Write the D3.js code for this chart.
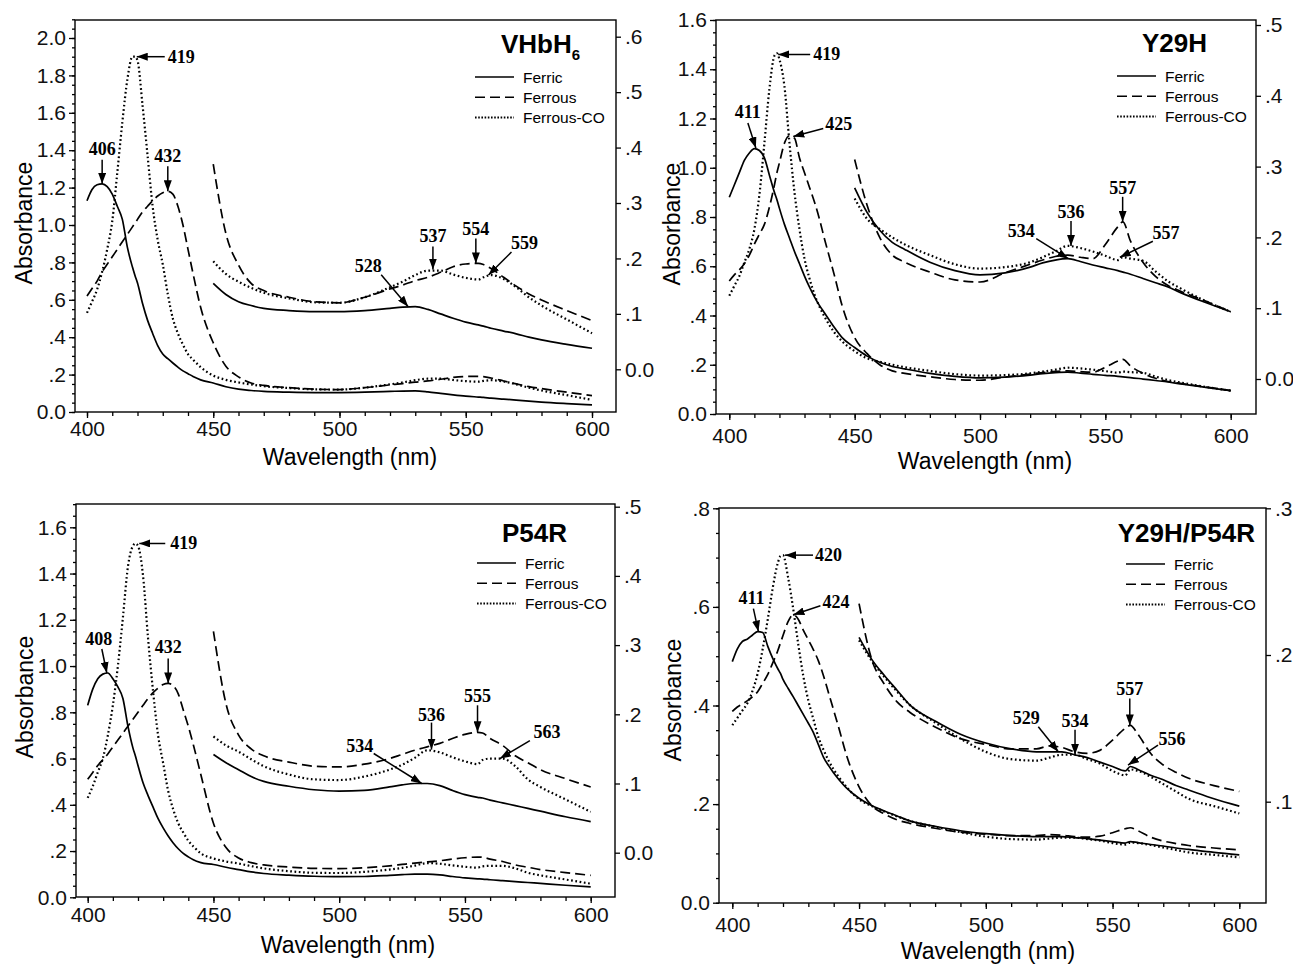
<!DOCTYPE html>
<html>
<head>
<meta charset="utf-8">
<script src="https://cdn.jsdelivr.net/npm/d3@7"></script>
<style>
body{margin:0;background:#fff;}
svg{display:block;font-family:"Liberation Sans",Arial,sans-serif;}
.tick text{font-size:21px;fill:#111;}
.ann{font-family:"Liberation Serif","Times New Roman",serif;font-weight:bold;font-size:18px;}
</style>
</head>
<body>
<script>
// wavelength grid (nm) shared by every spectrum
const wl = [400,402,404,406,408,410,412,414,416,418,419,420,422,424,426,428,430,432,434,436,438,440,442,445,
            450,455,460,465,470,480,490,500,510,520,525,530,535,540,545,550,555,557,560,565,570,575,580,590,600];

// VHbH6
const vhbFerric = [1.13,1.19,1.215,1.22,1.205,1.165,1.1,1.03,0.88,0.775,0.73,0.69,0.58,0.49,0.42,0.355,0.31,0.285,0.262,0.24,0.22,0.205,0.19,
                   0.172,0.155,0.135,0.122,0.115,0.11,0.106,0.104,0.104,0.106,0.11,0.112,0.113,0.108,0.1,0.092,0.085,0.08,0.078,0.074,0.069,0.064,0.058,0.053,0.045,0.038];
const vhbFerrous = [0.62,0.66,0.7,0.75,0.79,0.83,0.87,0.91,0.95,0.99,1.01,1.03,1.07,1.1,1.13,1.155,1.172,1.18,1.165,1.1,1.0,0.87,0.74,
                    0.56,0.37,0.245,0.188,0.155,0.142,0.13,0.122,0.12,0.13,0.145,0.152,0.16,0.166,0.175,0.185,0.19,0.191,0.189,0.182,0.166,0.15,0.136,0.125,0.106,0.088];
const vhbCO = [0.53,0.59,0.655,0.75,0.87,1.02,1.28,1.55,1.78,1.9,1.9,1.88,1.64,1.37,1.1,0.92,0.79,0.63,0.5,0.42,0.36,0.31,0.28,
               0.24,0.195,0.172,0.158,0.147,0.138,0.128,0.121,0.12,0.13,0.148,0.158,0.17,0.178,0.178,0.171,0.165,0.162,0.166,0.17,0.163,0.148,0.13,0.115,0.09,0.065];

// Y29H
const y29Ferric = [0.88,0.93,0.98,1.03,1.06,1.078,1.07,1.04,0.97,0.9,0.87,0.835,0.77,0.715,0.66,0.61,0.56,0.515,0.475,0.44,0.41,0.38,0.35,
                   0.31,0.27,0.235,0.21,0.193,0.183,0.165,0.153,0.147,0.15,0.158,0.164,0.168,0.17,0.166,0.161,0.157,0.153,0.151,0.148,0.142,0.136,0.13,0.122,0.108,0.095];
const y29Ferrous = [0.54,0.565,0.585,0.61,0.645,0.69,0.73,0.77,0.84,0.93,0.98,1.02,1.1,1.13,1.12,1.04,0.98,0.92,0.86,0.79,0.71,0.635,0.56,
                    0.44,0.31,0.245,0.2,0.175,0.165,0.151,0.14,0.137,0.15,0.162,0.168,0.173,0.175,0.172,0.17,0.19,0.215,0.222,0.195,0.165,0.145,0.132,0.124,0.11,0.095];
const y29CO = [0.48,0.52,0.56,0.615,0.67,0.75,0.89,1.1,1.32,1.455,1.465,1.44,1.33,1.1,0.9,0.75,0.63,0.55,0.485,0.435,0.395,0.36,0.33,
               0.295,0.255,0.226,0.212,0.2,0.19,0.175,0.162,0.156,0.158,0.165,0.172,0.18,0.188,0.185,0.18,0.174,0.168,0.172,0.17,0.167,0.152,0.138,0.128,0.11,0.095];

// P54R
const p54Ferric = [0.83,0.9,0.945,0.965,0.97,0.945,0.91,0.86,0.74,0.645,0.61,0.57,0.495,0.44,0.39,0.34,0.3,0.265,0.235,0.21,0.19,0.175,0.162,
                   0.15,0.142,0.13,0.12,0.11,0.103,0.096,0.091,0.089,0.09,0.095,0.098,0.1,0.1,0.097,0.09,0.084,0.08,0.079,0.076,0.072,0.068,0.064,0.06,0.052,0.045];
const p54Ferrous = [0.51,0.54,0.57,0.595,0.62,0.65,0.68,0.71,0.74,0.77,0.785,0.8,0.83,0.86,0.885,0.905,0.92,0.925,0.915,0.88,0.81,0.74,0.66,
                    0.53,0.32,0.215,0.17,0.15,0.14,0.131,0.125,0.124,0.128,0.136,0.142,0.148,0.153,0.158,0.165,0.171,0.174,0.173,0.165,0.155,0.14,0.13,0.12,0.107,0.095];
const p54CO = [0.43,0.48,0.54,0.6,0.7,0.83,1.0,1.21,1.43,1.52,1.53,1.52,1.39,1.12,0.89,0.7,0.58,0.46,0.38,0.32,0.28,0.245,0.22,
               0.19,0.168,0.155,0.146,0.135,0.125,0.113,0.106,0.105,0.11,0.12,0.127,0.137,0.148,0.145,0.138,0.132,0.128,0.134,0.136,0.136,0.125,0.106,0.095,0.077,0.059];

// Y29H/P54R
const dblFerric = [0.489,0.515,0.53,0.535,0.543,0.55,0.548,0.52,0.495,0.474,0.465,0.453,0.435,0.418,0.4,0.382,0.364,0.345,0.32,0.295,0.278,0.263,0.25,
                   0.233,0.212,0.197,0.186,0.176,0.166,0.155,0.146,0.14,0.136,0.134,0.134,0.134,0.132,0.13,0.127,0.124,0.121,0.124,0.122,0.118,0.115,0.111,0.108,0.102,0.097];
const dblFerrous = [0.388,0.397,0.403,0.41,0.418,0.428,0.445,0.463,0.487,0.512,0.527,0.542,0.57,0.584,0.575,0.553,0.533,0.513,0.49,0.46,0.425,0.39,0.355,
                    0.3,0.235,0.197,0.18,0.168,0.161,0.151,0.143,0.139,0.136,0.136,0.138,0.137,0.134,0.133,0.135,0.142,0.15,0.152,0.146,0.133,0.125,0.12,0.116,0.111,0.107];
const dblCO = [0.36,0.375,0.39,0.405,0.43,0.465,0.515,0.575,0.64,0.69,0.703,0.705,0.66,0.597,0.525,0.46,0.41,0.372,0.335,0.31,0.288,0.27,0.255,
               0.235,0.21,0.196,0.185,0.175,0.166,0.154,0.143,0.134,0.129,0.128,0.13,0.132,0.132,0.129,0.126,0.121,0.118,0.122,0.121,0.117,0.112,0.107,0.102,0.097,0.092];

const seriesNames = ["Ferric","Ferrous","Ferrous-CO"];
const xMajor = [400,450,500,550,600];

// peak labels: [text, wavelength, value, axis, tail dx, tail dy, text dx, text dy, anchor]
const vhbNotes = [["406",406,1.22,"L",0,-24,0,-5,"middle"],["419",419.7,1.9,"L",28,0,3,6,"start"],["432",432,1.18,"L",0,-25,0,-4,"middle"],
                  ["528",527.2,0.113,"R",-27,-32,-13,-3,"middle"],["537",537,0.18,"R",0,-23,0,-5,"middle"],["554",554,0.191,"R",0,-25,0,-3,"middle"],
                  ["559",559,0.17,"R",23,-23,13,-3,"middle"]];
const y29Notes = [["411",410.6,1.08,"L",-8,-25,0,-5,"middle"],["419",419.5,1.46,"L",32,0,3,6,"start"],["425",425.5,1.127,"L",30,-8,2,2,"start"],
                  ["534",535.2,0.17,"R",-32,-20,-15,-2,"middle"],["536",536.3,0.188,"R",0,-25,0,-3,"middle"],["557",556.9,0.222,"R",0,-25,0,-3,"middle"],
                  ["557",555.8,0.172,"R",33,-16,13,-2,"middle"]];
const p54Notes = [["408",407.6,0.97,"L",-5,-24,-3,-4,"middle"],["419",420.5,1.53,"L",26,0,5,6,"start"],["432",432,0.925,"L",0,-25,0,-5,"middle"],
                  ["534",532.8,0.1,"R",-48,-30,-14,-2,"middle"],["536",536.7,0.149,"R",0,-27,0,-2,"middle"],["555",555,0.174,"R",0,-27,0,-3,"middle"],
                  ["563",563.9,0.136,"R",30,-18,17,-3,"middle"]];
const dblNotes = [["411",410.3,0.55,"L",-5,-23,-2,-5,"middle"],["420",420.8,0.705,"L",28,0,2,6,"start"],["424",424.1,0.584,"L",27,-9,2,2,"start"],
                  ["529",528.6,0.134,"R",-20,-25,-12,-3,"middle"],["534",535.2,0.132,"R",0,-25,0,-3,"middle"],["557",556.8,0.152,"R",0,-27,0,-3,"middle"],
                  ["556",556.1,0.125,"R",30,-20,14,0,"middle"]];

const panels = [
  {title:"VHbH", sub:"6", series:[vhbFerric,vhbFerrous,vhbCO], notes:vhbNotes,
   x400:87, x600:592, L:75, R:616, T:20, B:412,
   leftDom:[0,2], leftRange:[412,38], leftMajor:d3.range(0,2.01,0.2), leftMinor:d3.range(0,2.11,0.05),
   rightDom:[0,0.6], rightRange:[369.3,36.7], rightMajor:d3.range(0,0.61,0.1),
   xPad:3, titleX:580, titleY:53, legX:475, legY:77, xLabelX:350, xLabelY:465, yLabelX:24, yLabelY:223},
  {title:"Y29H", sub:"", series:[y29Ferric,y29Ferrous,y29CO], notes:y29Notes,
   x400:729.3, x600:1230.7, L:716, R:1256, T:20, B:414,
   leftDom:[0,1.6], leftRange:[414,20], leftMajor:d3.range(0,1.61,0.2), leftMinor:d3.range(0,1.61,0.05),
   rightDom:[0,0.5], rightRange:[379,25], rightMajor:d3.range(0,0.51,0.1),
   xPad:8, titleX:1207, titleY:52, legX:1117, legY:76, xLabelX:985, xLabelY:469, yLabelX:672, yLabelY:224},
  {title:"P54R", sub:"", series:[p54Ferric,p54Ferrous,p54CO], notes:p54Notes,
   x400:87.7, x600:590.7, L:76, R:615, T:504, B:897,
   leftDom:[0,1.6], leftRange:[897.3,527.3], leftMajor:d3.range(0,1.61,0.2), leftMinor:d3.range(0,1.71,0.05),
   rightDom:[0,0.5], rightRange:[852.7,506.7], rightMajor:d3.range(0,0.51,0.1),
   xPad:4, titleX:567, titleY:542, legX:477, legY:563, xLabelX:348, xLabelY:953, yLabelX:25, yLabelY:697},
  {title:"Y29H/P54R", sub:"", series:[dblFerric,dblFerrous,dblCO], notes:dblNotes,
   x400:732.3, x600:1239.3, L:719, R:1266, T:508, B:903,
   leftDom:[0,0.8], leftRange:[902.7,508.3], leftMajor:d3.range(0,0.81,0.2), leftMinor:d3.range(0,0.81,0.05),
   rightDom:[0.1,0.3], rightRange:[801.7,508.3], rightMajor:[0.1,0.2,0.3],
   xPad:8, titleX:1255, titleY:542, legX:1126, legY:564, xLabelX:988, xLabelY:959, yLabelX:673, yLabelY:700}
];

const dashes = [null,"10,5","1.7,2.6"];
const widths = [1.7,1.7,2.2];

const svg = d3.select("body").append("svg").attr("width",1293).attr("height",965);

svg.append("defs").append("marker")
  .attr("id","head").attr("viewBox","0 0 11 8").attr("refX",11).attr("refY",4)
  .attr("markerWidth",11).attr("markerHeight",8).attr("markerUnits","userSpaceOnUse").attr("orient","auto")
  .append("path").attr("d","M0,0L11,4L0,8Z").attr("fill","#000");

function fmt(v){
  if(Math.abs(v)<1e-9) return "0.0";
  const s = d3.format(".1f")(v);
  return v<0.999 ? s.replace(/^0/,"") : s;
}

function drawPanel(p){
  const g = svg.append("g");
  const x = d3.scaleLinear().domain([400,600]).range([p.x400,p.x600]);
  const yL = d3.scaleLinear().domain(p.leftDom).range(p.leftRange);
  const yR = d3.scaleLinear().domain(p.rightDom).range(p.rightRange);

  //frame
  g.append("rect").attr("x",p.L).attr("y",p.T).attr("width",p.R-p.L).attr("height",p.B-p.T)
    .attr("fill","none").attr("stroke","#000").attr("stroke-width",1.4);

  //x axis, minor then major
  g.append("g").attr("transform","translate(0,"+p.B+")")
    .call(d3.axisBottom(x).tickValues(d3.range(400,601,10)).tickSize(4).tickFormat(""))
    .call(a=>a.select(".domain").remove());
  g.append("g").attr("transform","translate(0,"+p.B+")")
    .call(d3.axisBottom(x).tickValues(xMajor).tickSize(6).tickPadding(p.xPad).tickFormat(d3.format("d")))
    .call(a=>a.select(".domain").remove());

  //left axis
  g.append("g").attr("transform","translate("+p.L+",0)")
    .call(d3.axisLeft(yL).tickValues(p.leftMinor).tickSize(3).tickFormat(""))
    .call(a=>a.select(".domain").remove());
  g.append("g").attr("transform","translate("+p.L+",0)")
    .call(d3.axisLeft(yL).tickValues(p.leftMajor).tickSize(6).tickPadding(3).tickFormat(fmt))
    .call(a=>a.select(".domain").remove());

  //right axis (magnified scale)
  g.append("g").attr("transform","translate("+p.R+",0)")
    .call(d3.axisRight(yR).tickValues(p.rightMajor).tickSize(5).tickPadding(4).tickFormat(fmt))
    .call(a=>a.select(".domain").remove());

  g.selectAll(".tick line").attr("stroke","#000").attr("stroke-width",1.3);

  //axis titles
  g.append("text").attr("x",p.xLabelX).attr("y",p.xLabelY).attr("text-anchor","middle")
    .attr("font-size",23).text("Wavelength (nm)");
  g.append("text").attr("transform","translate("+p.yLabelX+","+p.yLabelY+") rotate(-90)")
    .attr("text-anchor","middle").attr("dy","0.35em").attr("font-size",23).text("Absorbance");

  //spectra: full range on the left scale, 450-600 nm again on the right scale
  const full = d3.line().x(d=>x(d[0])).y(d=>yL(d[1])).curve(d3.curveMonotoneX);
  const mag = d3.line().x(d=>x(d[0])).y(d=>yR(d[1])).curve(d3.curveMonotoneX);
  p.series.forEach((s,i)=>{
    const pts = wl.map((w,j)=>[w,s[j]]);
    [[full,pts],[mag,pts.filter(d=>d[0]>=450)]].forEach(([gen,data])=>{
      g.append("path").datum(data).attr("d",gen)
        .attr("fill","none").attr("stroke","#000").attr("stroke-width",widths[i])
        .attr("stroke-dasharray",dashes[i]);
    });
  });

  //title
  const t = g.append("text").attr("x",p.titleX).attr("y",p.titleY).attr("text-anchor","end")
    .attr("font-size",26).attr("font-weight","bold").text(p.title);
  if(p.sub) t.append("tspan").attr("font-size",15).attr("dy",7).text(p.sub);

  //legend
  seriesNames.forEach((n,i)=>{
    const yy = p.legY + i*20.3;
    g.append("line").attr("x1",p.legX).attr("x2",p.legX+39).attr("y1",yy).attr("y2",yy)
      .attr("stroke","#000").attr("stroke-width",i==2?2:1.5).attr("stroke-dasharray",i==2?"1.6,1.6":dashes[i]);
    g.append("text").attr("x",p.legX+48).attr("y",yy+5.5).attr("font-size",15.5).text(n);
  });

  //peak annotations
  p.notes.forEach(n=>{
    const tx = x(n[1]), ty = (n[3]=="L"?yL:yR)(n[2]);
    const ax = tx+n[4], ay = ty+n[5];
    g.append("line").attr("x1",ax).attr("y1",ay).attr("x2",tx).attr("y2",ty)
      .attr("stroke","#000").attr("stroke-width",1.5).attr("marker-end","url(#head)");
    g.append("text").attr("class","ann").attr("x",ax+n[6]).attr("y",ay+n[7])
      .attr("text-anchor",n[8]).text(n[0]);
  });
}

panels.forEach(drawPanel);
</script>
</body>
</html>
